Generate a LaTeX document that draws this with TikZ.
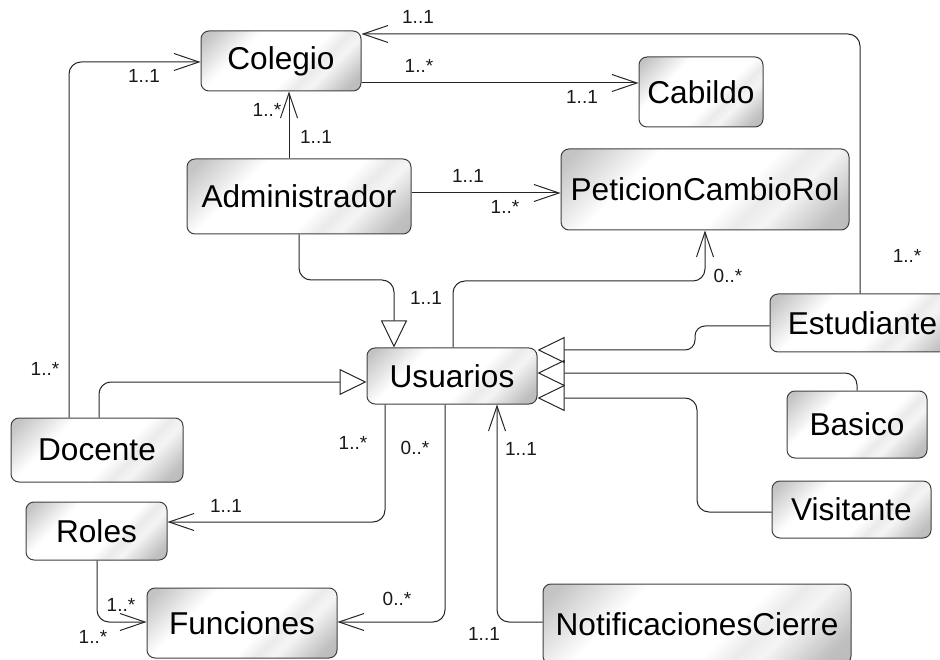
\documentclass[tikz,border=0pt]{standalone}
\usepackage{fontspec}
\setmainfont{Liberation Sans}
\usetikzlibrary{arrows.meta}

% light diagonal gloss used on every class box
\pgfdeclarehorizontalshading{gloss}{100bp}{%
  color(0bp)=(black!27); color(18bp)=(black!23); color(34bp)=(white);
  color(57bp)=(white); color(63bp)=(black!8); color(68bp)=(black!4);
  color(80bp)=(black!25); color(100bp)=(black!32)}

\tikzset{
  cls/.style={draw=black!75, line width=1pt, rounded corners=8pt,
    shading=gloss, shading angle=-45, inner sep=0pt, text=black,
    font=\fontsize{31.6}{36}\selectfont},
  mult/.style={inner sep=0pt, text=black!90, font=\fontsize{19}{22}\selectfont},
  link/.style={draw=black!85, line width=1pt, rounded corners=12pt},
  assoc/.style={link, -{Straight Barb[length=25pt, width=17pt]}},
  gen/.style={link, -{Triangle[open, length=27pt, width=26pt]}}
}

\begin{document}
\begin{tikzpicture}[x=1pt, y=-1pt]
\useasboundingbox (0,0) rectangle (940,660);

% classes
\node[cls, minimum width=160pt, minimum height=60pt] (col) at (281,61) {Colegio};
\node[cls, minimum width=124pt, minimum height=70pt] (cab) at (701,92) {Cabildo};
\node[cls, minimum width=224pt, minimum height=75pt] (adm) at (299,196.5) {Administrador};
\node[cls, minimum width=288pt, minimum height=81pt] (pet) at (705,189.5) {PeticionCambioRol};
\node[cls, minimum width=170pt, minimum height=56pt] (usu) at (452,376) {Usuarios};
\node[cls, minimum width=185pt, minimum height=58pt] (est) at (862.5,323) {Estudiante};
\node[cls, minimum width=140pt, minimum height=67pt] (bas) at (857,424.5) {Basico};
\node[cls, minimum width=159pt, minimum height=57pt] (vis) at (851.5,509.5) {Visitante};
\node[cls, minimum width=308pt, minimum height=80pt] (noti) at (697,624) {NotificacionesCierre};
\node[cls, minimum width=190pt, minimum height=70pt] (fun) at (242,623) {Funciones};
\node[cls, minimum width=172pt, minimum height=64pt] (doc) at (97,450) {Docente};
\node[cls, minimum width=141pt, minimum height=58pt] (rol) at (96.5,531) {Roles};

% associations
\draw[assoc] (est.north -| 860,0) |- (col.east |- 0,34);
\draw[assoc] (col.east |- 0,83) -- (cab.west |- 0,83);
\draw[assoc] (adm.north -| 289,0) -- (col.south -| 289,0);
\draw[assoc] (adm.east |- 0,193) -- (pet.west |- 0,193);
\draw[assoc] (usu.north -| 453,0) |- (600,281) -| (pet.south -| 705,0);
\draw[assoc] (doc.north -| 69,0) |- (col.west |- 0,62);
\draw[assoc] (usu.south -| 385,0) |- (rol.east |- 0,522);
\draw[assoc] (usu.south -| 445,0) |- (fun.east |- 0,622);
\draw[assoc] (rol.south -| 97,0) |- (fun.west |- 0,622);
\draw[assoc] (noti.west |- 0,622) -| (usu.south -| 497,0);

% generalizations
\draw[gen] (adm.south -| 299,0) |- (340,280) -| (usu.north -| 394,0);
\draw[gen, rounded corners=10pt] (est.west |- 0,326) -- (695,326) -- (695,350) -- (usu.east |- 0,350);
\draw[gen] (bas.north -| 857,0) |- (usu.east |- 0,373);
\draw[gen] (vis.west |- 0,512) -| (697,450) |- (usu.east |- 0,398);
\draw[gen] (doc.north -| 99,0) |- (usu.west |- 0,382);

% multiplicities
\node[mult] (m1) at (418,17) {1..1};
\node[mult] (m2) at (907,256) {1..*};
\node[mult] (m3) at (419,66) {1..*};
\node[mult] (m4) at (582,97) {1..1};
\node[mult] (m5) at (267,110) {1..*};
\node[mult] (m6) at (316,137) {1..1};
\node[mult] (m7) at (468,176) {1..1};
\node[mult] (m8) at (505,207) {1..*};
\node[mult] (m9) at (426,298) {1..1};
\node[mult] (m10) at (728,276) {0..*};
\node[mult] (m11) at (144,76) {1..1};
\node[mult] (m12) at (45,369) {1..*};
\node[mult] (m13) at (353,443) {1..*};
\node[mult] (m14) at (226,506) {1..1};
\node[mult] (m15) at (415,448) {0..*};
\node[mult] (m16) at (397,599) {0..*};
\node[mult] (m17) at (121,605) {1..*};
\node[mult] (m18) at (93,637) {1..*};
\node[mult] (m19) at (521,449) {1..1};
\node[mult] (m20) at (484,634) {1..1};
\end{tikzpicture}
\end{document}
